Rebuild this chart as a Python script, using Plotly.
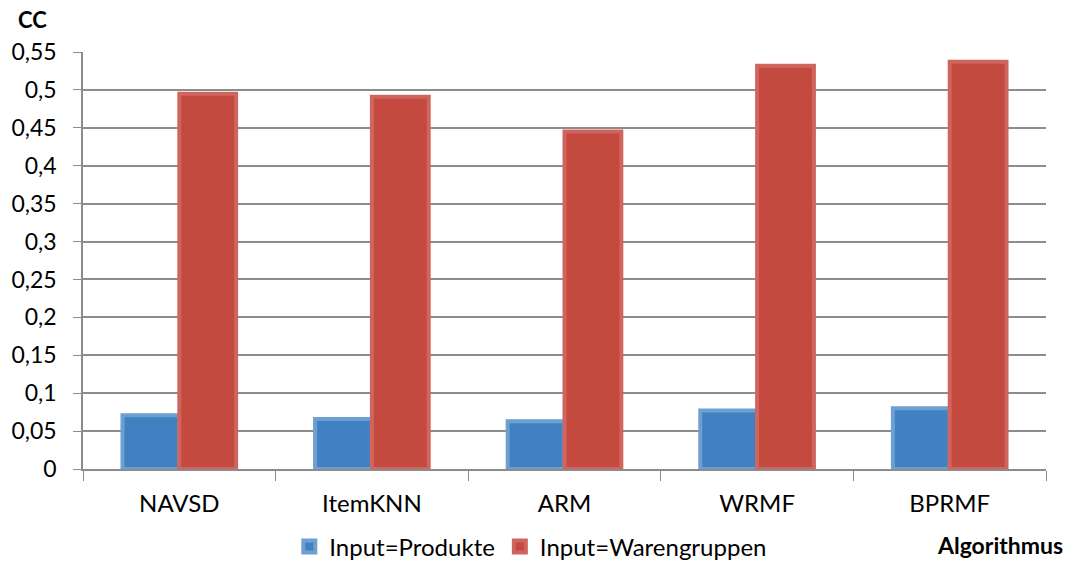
import plotly.graph_objects as go

# Coverage (CC) per algorithm for two input variants
algorithms = ["NAVSD", "ItemKNN", "ARM", "WRMF", "BPRMF"]
cc_produkte = [0.071, 0.066, 0.063, 0.077, 0.080]
cc_warengruppen = [0.495, 0.491, 0.445, 0.532, 0.537]

y_tick_vals = [0, 0.05, 0.1, 0.15, 0.2, 0.25, 0.3, 0.35, 0.4, 0.45, 0.5, 0.55]
y_tick_text = ["0", "0,05", "0,1", "0,15", "0,2", "0,25", "0,3", "0,35", "0,4", "0,45", "0,5", "0,55"]

FONT = "Lato"
GRID = "#8c8c8c"

fig = go.Figure()
fig.add_trace(go.Bar(
    name="Input=Produkte", x=algorithms, y=cc_produkte,
    marker=dict(color="#4281c1", line=dict(color="#6e9fd1", width=4)),
))
fig.add_trace(go.Bar(
    name="Input=Warengruppen", x=algorithms, y=cc_warengruppen,
    marker=dict(color="#c4493f", line=dict(color="#d0645e", width=4)),
))

fig.update_layout(
    width=1074, height=565,
    margin=dict(l=83, r=28, t=52, b=96, autoexpand=False),
    paper_bgcolor="white", plot_bgcolor="white",
    barmode="group", bargap=0.41, bargroupgap=0,
    font=dict(family=FONT, size=24, color="black"),
    showlegend=True,
    legend=dict(orientation="h", x=0.465, xanchor="center",
                y=0.032, yref="container", yanchor="middle",
                font=dict(size=24), itemwidth=30, traceorder="normal"),
    xaxis=dict(
        type="category", tickson="boundaries", ticks="outside", ticklen=10,
        tickcolor=GRID, showline=True, linecolor=GRID, linewidth=1.5,
        showgrid=False, tickfont=dict(size=24), ticklabelstandoff=12,
        automargin=False,
    ),
    yaxis=dict(
        range=[0, 0.55], tickvals=y_tick_vals, ticktext=y_tick_text,
        ticks="outside", ticklen=8, tickcolor=GRID,
        showline=True, linecolor=GRID, linewidth=1.5,
        showgrid=True, gridcolor=GRID, gridwidth=1.5,
        tickfont=dict(size=23), zeroline=False, ticklabelstandoff=12,
        automargin=False,
    ),
    annotations=[
        dict(text="<b>CC</b>", x=-0.052, y=1.077, xref="paper", yref="paper",
             xanchor="center", yanchor="middle", showarrow=False, font=dict(size=22)),
        dict(text="<b>Algorithmus</b>", x=0.952, y=-0.183, xref="paper", yref="paper",
             xanchor="center", yanchor="middle", showarrow=False, font=dict(size=23)),
    ],
)

fig.write_html("out.html")
